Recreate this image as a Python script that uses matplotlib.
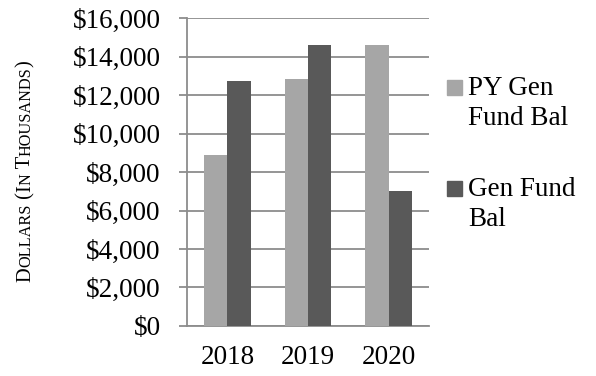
import numpy as np
import matplotlib.pyplot as plt
from matplotlib.patches import Rectangle
from matplotlib.ticker import FuncFormatter

# data
years = ["2018", "2019", "2020"]
series_names = ["PY Gen\nFund Bal", "Gen Fund\nBal"]
py_gen_fund_bal = [8900, 12850, 14600]
gen_fund_bal = [12750, 14600, 7000]
colors = ["#a6a6a6", "#595959"]
y_ticks = [0, 2000, 4000, 6000, 8000, 10000, 12000, 14000, 16000]

plt.rcParams["font.family"] = "Liberation Serif"
grid_col = "#8c8c8c"
W, H = 596, 376

fig = plt.figure(figsize=(W / 100, H / 100), dpi=100)
ax = fig.add_axes([0.3138, 0.133, 0.406, 0.819])

x = np.arange(len(years))
w = 0.29
ax.bar(x - w / 2, py_gen_fund_bal, w, color=colors[0], zorder=3)
ax.bar(x + w / 2, gen_fund_bal, w, color=colors[1], zorder=3)

ax.set_xlim(-0.5, 2.5)
ax.set_ylim(0, 16000)
ax.set_yticks(y_ticks)
ax.yaxis.set_major_formatter(FuncFormatter(lambda v, p: f"${v:,.0f}"))
ax.set_xticks(x)
ax.set_xticklabels(years)
ax.grid(axis="y", color=grid_col, linewidth=1.3, zorder=0)
for s in ["top", "right"]:
    ax.spines[s].set_visible(False)
for s in ["left", "bottom"]:
    ax.spines[s].set_color(grid_col)
    ax.spines[s].set_linewidth(1.3)
ax.tick_params(axis="y", length=6, width=1.3, color=grid_col, pad=13, labelsize=19.5)
ax.tick_params(axis="x", length=0, pad=14, labelsize=19.5)

# legend drawn by hand so the square sits on the first text line
first_base = [95, 196]   # baseline of first line, pixels from top
line_gap = 30.5
for name, c, b in zip(series_names, colors, first_base):
    fig.patches.append(Rectangle((447 / W, 1 - b / H), 15 / W, 15.5 / H,
                                 transform=fig.transFigure, color=c))
    for i, line in enumerate(name.split("\n")):
        fig.text(468 / W, 1 - (b + i * line_gap) / H, line, fontsize=19.5,
                 va="baseline", ha="left")

# small-caps y label built piece by piece
pieces = [("D", 14.8), ("OLLARS", 11.7), (" (", 14.8), ("I", 14.8), ("N", 11.7),
          (" T", 14.8), ("HOUSANDS", 11.7), (")", 14.8)]
fig.canvas.draw()
r = fig.canvas.get_renderer()
tx, ty = 30.0, H - 282.0
for txt, sz in pieces:
    t = fig.text(tx / W, ty / H, txt, fontsize=sz, rotation=90,
                 rotation_mode="anchor", ha="left", va="baseline")
    bb = t.get_window_extent(r)
    ty += bb.height

fig.savefig("out.png", dpi=100)
